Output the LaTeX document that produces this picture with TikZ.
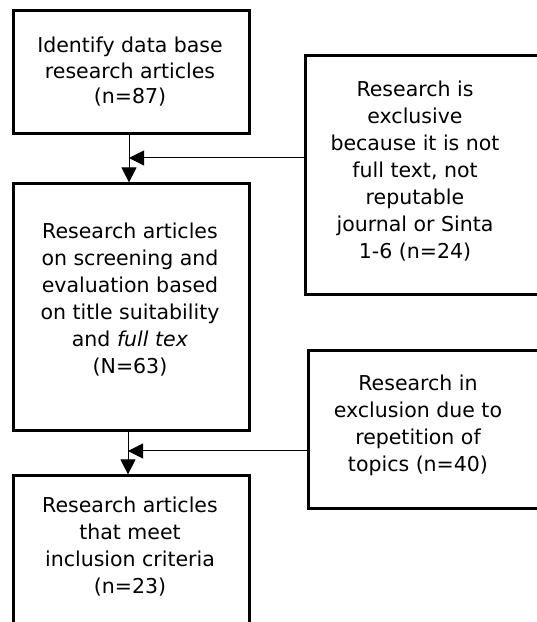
\documentclass[tikz,border=0pt]{standalone}
\usepackage{fontspec}
\setmainfont{DejaVu Sans}
\usetikzlibrary{arrows.meta}
\begin{document}
\begin{tikzpicture}[x=1pt,y=1pt,
  boxshape/.style={draw=black,line width=2.6pt,rectangle,inner sep=0pt,anchor=south west},
  txt/.style={align=center,inner sep=0pt,font=\fontsize{20.5}{27}\selectfont},
  txtA/.style={txt,font=\fontsize{20.5}{25.5}\selectfont},
  conn/.style={draw=black,line width=1pt},
  arr/.style={conn,-{Triangle[length=15pt,width=15pt]}}]
\useasboundingbox (0,0) rectangle (537,622);
\clip (0,0) rectangle (537,622);
\fill[white] (0,0) rectangle (537,622);
% main column boxes
\node[boxshape,minimum width=236pt,minimum height=123pt] (b1) at (12,487) {};
\node[boxshape,minimum width=236pt,minimum height=247pt] (b2) at (12,190) {};
\node[boxshape,minimum width=236pt,minimum height=160pt] (b3) at (12,-15) {};
% exclusion boxes
\node[boxshape,minimum width=260pt,minimum height=239pt] (e1) at (304,326) {};
\node[boxshape,minimum width=260pt,minimum height=158pt] (e2) at (307,112) {};
% texts
\node[txtA] (t1) at (130,550) {Identify data base\\research articles\\(n=87)};
\node[txt] (t2) at (130,322) {Research articles\\on screening and\\evaluation based\\on title suitability\\and \textit{full tex}\\(N=63)};
\node[txt] (t3) at (130,75) {Research articles\\that meet\\inclusion criteria\\(n=23)};
\node[txt] (t4) at (415,451) {Research is\\exclusive\\because it is not\\full text, not\\reputable\\journal or Sinta\\1-6 (n=24)};
\node[txt] (t5) at (418,197) {Research in\\exclusion due to\\repetition of\\topics (n=40)};
% connectors
\coordinate (j1) at (129,464);
\coordinate (j2) at (128,171);
\draw[arr] (b1.south -| j1) -- (b2.north -| j1);
\draw[arr] (e1.west |- j1) -- (j1);
\draw[arr] (b2.south -| j2) -- (b3.north -| j2);
\draw[arr] (e2.west |- j2) -- (j2);
\end{tikzpicture}
\end{document}
